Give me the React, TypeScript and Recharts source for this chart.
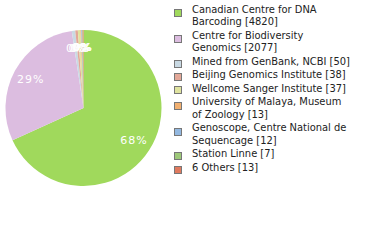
import React from 'react';
import { PieChart, Pie, Cell } from 'recharts';

const names = [
  'Canadian Centre for DNA Barcoding',
  'Centre for Biodiversity Genomics',
  'Mined from GenBank, NCBI',
  'Beijing Genomics Institute',
  'Wellcome Sanger Institute',
  'University of Malaya, Museum of Zoology',
  'Genoscope, Centre National de Sequencage',
  'Station Linne',
  '6 Others',
];
const counts = [4820, 2077, 50, 38, 37, 13, 12, 7, 13];
const colors = ['#a0d95c', '#dcbde0', '#c9d9e3', '#e3a898', '#dfe39f', '#f2b070', '#93b8e0', '#9ec97a', '#e07a5e'];
// legend lines, wrapped as in the picture
const legendLines = [
  ['Canadian Centre for DNA', 'Barcoding [4820]'],
  ['Centre for Biodiversity', 'Genomics [2077]'],
  ['Mined from GenBank, NCBI [50]'],
  ['Beijing Genomics Institute [38]'],
  ['Wellcome Sanger Institute [37]'],
  ['University of Malaya, Museum', 'of Zoology [13]'],
  ['Genoscope, Centre National de', 'Sequencage [12]'],
  ['Station Linne [7]'],
  ['6 Others [13]'],
];

const data = names.map((name, i) => ({ name, value: counts[i] }));
const total = counts.reduce((a, b) => a + b, 0);

const RAD = Math.PI / 180;
const renderLabel = (p: any) => {
  const r = p.outerRadius * 0.77;
  const x = p.cx + r * Math.cos(-p.midAngle * RAD);
  const y = p.cy + r * Math.sin(-p.midAngle * RAD);
  const pct = Math.floor((p.value / total) * 100);
  return (
    <text x={x} y={y} fill="#fff" fontSize={11} fontFamily="DejaVu Sans" letterSpacing={1}
      textAnchor="middle" dominantBaseline="central">
      {pct}%
    </text>
  );
};

const LegendBox = () => (
  <div style={{
    position: 'absolute', left: 174, top: 3.5, width: 206,
    fontFamily: 'DejaVu Sans', fontStretch: 'condensed', fontSize: 11, color: '#222', lineHeight: '12.8px',
  }}>
    {legendLines.map((lines, i) => (
      <div key={i} style={{ position: 'relative', paddingLeft: 18, marginBottom: 0.6 }}>
        <span style={{
          position: 'absolute', left: 0, top: lines.length > 1 ? 5.8 : 3.7, width: 6, height: 6,
          background: colors[i], border: '1px solid #777',
        }} />
        {lines.map((l, j) => <div key={j} style={{ whiteSpace: 'nowrap' }}>{l}</div>)}
      </div>
    ))}
  </div>
);

export default function App() {
  return (
    <div style={{ position: 'absolute', left: 0, top: 0, width: 380, height: 240, background: '#fff' }}>
      <PieChart width={170} height={240} margin={{ top: 0, right: 0, bottom: 0, left: 0 }}>
        <Pie
          data={data}
          dataKey="value"
          cx={83.5}
          cy={108}
          outerRadius={78}
          startAngle={90}
          endAngle={-270}
          stroke="none"
          label={renderLabel}
          labelLine={false}
          isAnimationActive={false}
        >
          {data.map((d, i) => <Cell key={d.name} fill={colors[i]} />)}
        </Pie>
      </PieChart>
      <LegendBox />
    </div>
  );
}
